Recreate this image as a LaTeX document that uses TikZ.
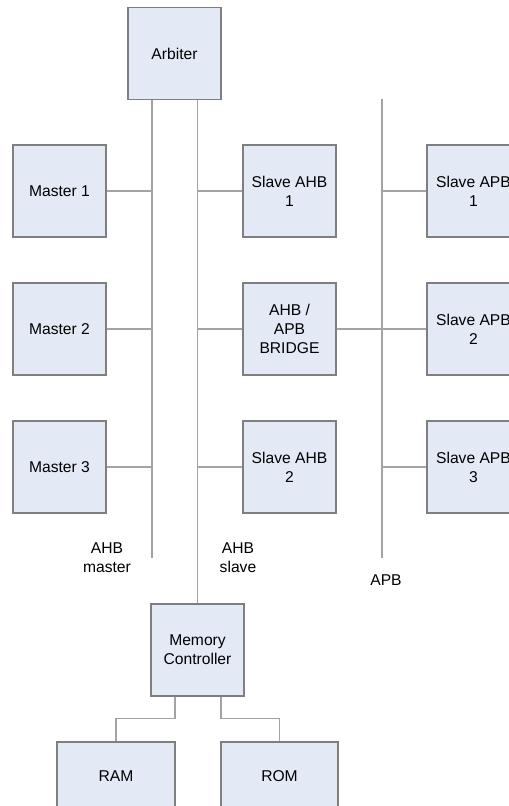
\documentclass[tikz,border=0pt]{standalone}
\usepackage{fontspec}
\setmainfont{Liberation Sans}
\usepackage{xcolor}
\usepackage{tikz}
\usetikzlibrary{calc}
\definecolor{boxfill}{HTML}{E4EAF5}
\definecolor{boxline}{HTML}{7F7F7F}
\definecolor{busline}{HTML}{A3A3A3}

\begin{document}
\begin{tikzpicture}[x=0.02cm, y=-0.02cm,
    blk/.style={draw=boxline, fill=boxfill, line width=0.7pt, align=center,
      inner sep=0pt, minimum width=1.86cm, minimum height=1.84cm,
      font=\fontsize{8.9}{10.8}\selectfont},
    wire/.style={draw=busline, line width=0.8pt},
    lbl/.style={align=center, font=\fontsize{8.9}{10.8}\selectfont}]
  \useasboundingbox (0,0) rectangle (509,806);
  \clip (0,0) rectangle (509,806);
  % ------- arbiter and masters -------
  \node[blk] (arb) at (174.5,53.5) {Arbiter};
  \node[blk] (m1) at (59.5,191) {Master 1};
  \node[blk] (m2) at (59.5,329) {Master 2};
  \node[blk] (m3) at (59.5,467) {Master 3};
  % ------- AHB slaves and bridge -------
  \node[blk] (sahb1) at (289.5,191) {Slave AHB\\1};
  \node[blk] (bridge) at (289.5,329) {AHB /\\APB\\BRIDGE};
  \node[blk] (sahb2) at (289.5,467) {Slave AHB\\2};
  % ------- APB slaves (cut by the right edge) -------
  \node[blk] (sapb1) at (473.5,191) {Slave APB\\1};
  \node[blk] (sapb2) at (473.5,329) {Slave APB\\2};
  \node[blk] (sapb3) at (473.5,467) {Slave APB\\3};
  % ------- memory side -------
  \node[blk] (mc) at (197.5,650) {Memory\\Controller};
  \node[blk, minimum width=2.36cm, minimum height=1.36cm] (ram) at (116,776) {RAM};
  \node[blk, minimum width=2.34cm, minimum height=1.36cm] (rom) at (279.5,776) {ROM};
  % bus ends
  \coordinate (mend) at (152,558);
  \coordinate (ptop) at (382,99);
  \coordinate (pend) at (382,558);
  % ------- buses -------
  \draw[wire] (arb.south -| mend) -- (mend);
  \draw[wire] (arb.south -| mc.north) -- (mc.north);
  \draw[wire] (ptop) -- (pend);
  \foreach \m in {m1,m2,m3}
    \draw[wire] (\m.east) -- (\m.east -| mend);
  \foreach \s in {sahb1,bridge,sahb2}
    \draw[wire] (\s.west -| mc.north) -- (\s.west);
  \foreach \s in {sapb1,sapb3}
    \draw[wire] (\s.west -| pend) -- (\s.west);
  \draw[wire] (bridge.east) -- (sapb2.west);
  % ------- memory controller to RAM / ROM -------
  \draw[wire] ($(mc.south)+(-22.5,0)$) -- ++(0,22) -| (ram.north);
  \draw[wire] ($(mc.south)+(23.5,0)$) -- ++(0,22) -| (rom.north);
  % ------- bus names -------
  \node[lbl] (lmaster) at (107,558) {AHB\\master};
  \node[lbl] (lslave) at (238,558) {AHB\\slave};
  \node[lbl] (lapb) at (386,580) {APB};
\end{tikzpicture}
\end{document}
